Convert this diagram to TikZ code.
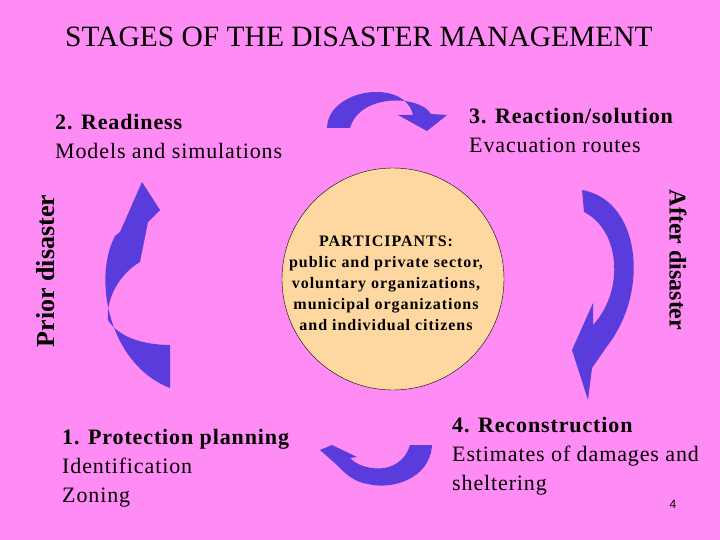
\documentclass[tikz,border=0pt]{standalone}
\usepackage{fontspec}
\setmainfont{Liberation Serif}
\newfontfamily\sansf{Liberation Sans}
\newfontfamily\spaced[LetterSpace=6]{Liberation Serif}
\newfontfamily\lspaced[LetterSpace=4]{Liberation Serif}
\begin{document}
\begin{tikzpicture}[x=1pt,y=-1pt,
  arr/.style={fill=arrblue,draw=none},
  lbl/.style={anchor=west,align=left,inner sep=0pt,font=\lspaced\fontsize{22}{29}\selectfont}]
\definecolor{bg}{HTML}{FF8CF4}
\definecolor{arrblue}{HTML}{5A3CDC}
\definecolor{circ}{HTML}{FFD7A0}
\fill[bg] (0,0) rectangle (720,540);
\useasboundingbox (0,0) rectangle (720,540);
\node (title) at (359,37) {\fontsize{29.5}{31}\selectfont STAGES OF THE DISASTER MANAGEMENT};
% circle
\node[circle,draw=black,thin,fill=circ,minimum size=222pt,inner sep=0pt] (c) at (393,279) {};
\node[align=center,font=\spaced\bfseries\fontsize{16}{21}\selectfont] (p) at (386,283)
 {PARTICIPANTS:\\ public and private sector,\\ voluntary organizations,\\ municipal organizations\\ and individual citizens};
% labels
\node[lbl] (s2) at (55,136) {\textbf{2. Readiness}\\Models and simulations};
\node[lbl] (s3) at (469,130) {\textbf{3. Reaction/solution}\\Evacuation routes};
\node[lbl] (s1) at (62,468) {\textbf{1. Protection planning}\\Identification\\Zoning};
\node[lbl] (s4) at (452,456) {\textbf{4. Reconstruction}\\Estimates of damages and\\sheltering};
\node[rotate=90,font=\bfseries\fontsize{26}{28}\selectfont] (pd) at (46,271) {Prior disaster};
\node[rotate=-90,font=\bfseries\fontsize{24}{26}\selectfont] (ad) at (678,260) {After disaster};
\node[font=\sansf\fontsize{12}{14}\selectfont] (n) at (673,504) {4};
% top arrow
\path[arr] (327,128) .. controls (328,88) and (405,78) .. (413,115) -- (398,115) -- (427,131) -- (447,115) -- (431,114)
  .. controls (420,95) and (360,93) .. (350,128) -- cycle;
% left arrow
\path[arr] (170,388) .. controls (110,365) and (92,280) .. (115,236) -- (120,232)
  -- (142,182) -- (160,210) -- (148,222) -- (140,262) .. controls (118,275) and (106,300) .. (108,320)
  .. controls (120,340) and (150,345) .. (170,345) -- cycle;
% right arrow
\path[arr] (582,190) .. controls (640,200) and (650,290) .. (608,345) -- (592,368) -- (588,400) -- (572,350) -- (593,303) -- (593,325)
  .. controls (625,290) and (620,230) .. (584,212) -- cycle;
% bottom arrow
\path[arr] (432,445) .. controls (430,480) and (390,490) .. (368,484) .. controls (352,482) and (342,470) .. (337,465)
  -- (320,450) -- (332,445) -- (357,457) -- (350,458) .. controls (360,470) and (400,478) .. (410,445) -- cycle;
\end{tikzpicture}
\end{document}
